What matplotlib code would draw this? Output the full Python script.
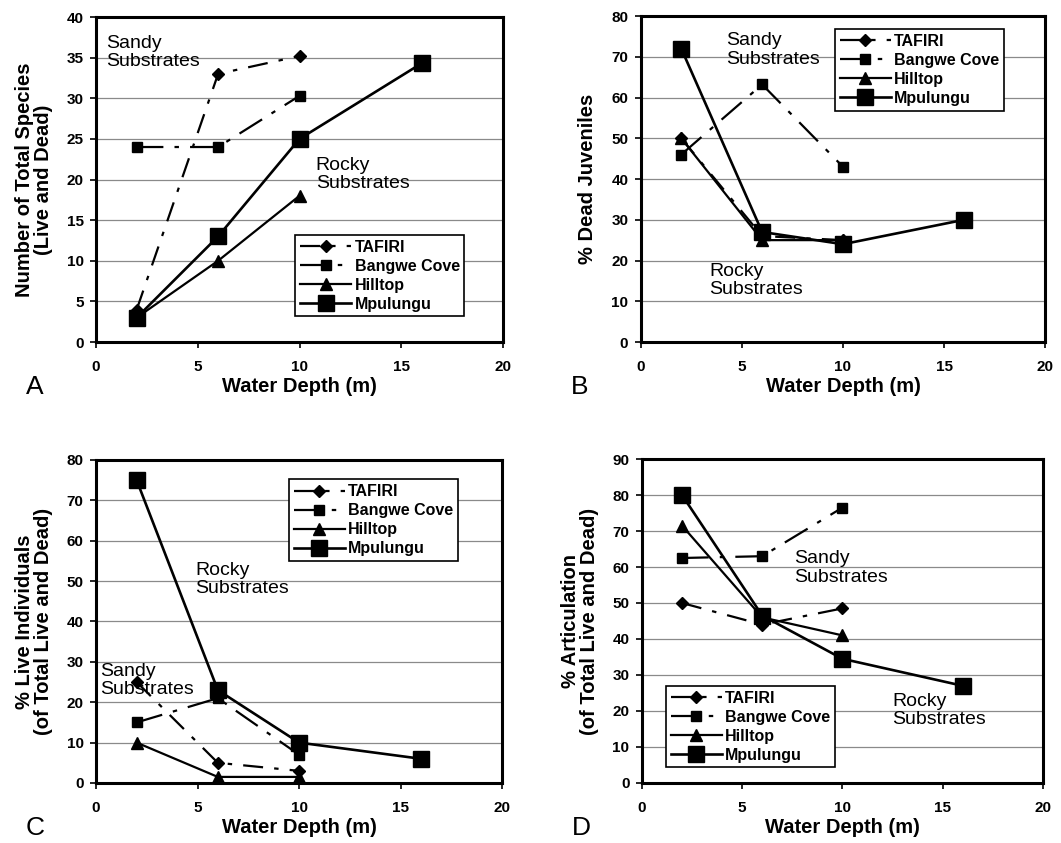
import matplotlib.pyplot as plt

plt.rcParams['font.family'] = ['Liberation Sans', 'DejaVu Sans']

siteNames = ['TAFIRI', 'Bangwe Cove', 'Hilltop', 'Mpulungu']
depths = [2, 6, 10]
depthsMpulungu = [2, 6, 10, 16]

# panel A - number of total species
speciesTafiri = [4, 33, 35.2]
speciesBangwe = [24, 24, 30.3]
speciesHilltop = [3, 10, 18]
speciesMpulungu = [3, 13, 25, 34.3]

# panel B - % dead juveniles
deadTafiri = [50, 26, 25]
deadBangwe = [46, 63.2, 43]
deadHilltop = [50, 25, 25]
deadMpulungu = [72, 27, 24, 30]

# panel C - % live individuals
liveTafiri = [25, 5, 3]
liveBangwe = [15, 21, 7]
liveHilltop = [10, 1.5, 1.5]
liveMpulungu = [75, 23, 10, 6]

# panel D - % articulation
artTafiri = [50, 44, 48.5]
artBangwe = [62.5, 63, 76.5]
artHilltop = [71.5, 46, 41]
artMpulungu = [80, 46.5, 34.5, 27]

styles = {
    'TAFIRI':      dict(marker='D', ms=6, lw=1.6, dashes=(9, 5, 2, 5)),
    'Bangwe Cove': dict(marker='s', ms=7, lw=1.6, dashes=(12, 5, 2, 5)),
    'Hilltop':     dict(marker='^', ms=8, lw=1.6, linestyle='-'),
    'Mpulungu':    dict(marker='s', ms=12, lw=1.9, linestyle='-'),
}

fig = plt.figure(figsize=(10.61, 8.43), dpi=100)


def drawPanel(rect, series, yMax, yStep, yLabel, letter, legendBox, sandyXY, rockyXY):
    ax = fig.add_axes(rect)
    for name, xs, ys in series:
        ax.plot(xs, ys, color='black', mfc='black', mec='black', label=name, **styles[name])
    ax.set_xlim(0, 20)
    ax.set_ylim(0, yMax)
    ax.set_xticks([0, 5, 10, 15, 20])
    ax.set_yticks(range(0, yMax + 1, yStep))
    ax.yaxis.grid(True, color='#8a8a8a', lw=0.9)
    ax.set_axisbelow(True)
    for s in ax.spines.values():
        s.set_linewidth(2.2)
    ax.tick_params(direction='out', length=4, width=1.2, labelsize=11, pad=5)
    ax.tick_params(axis='x', pad=9)
    for t in ax.get_xticklabels() + ax.get_yticklabels():
        t.set_fontweight('bold')
    ax.set_xlabel('Water Depth (m)', fontsize=14.5, fontweight='bold', labelpad=2)
    ax.set_ylabel(yLabel, fontsize=14.5, fontweight='bold', labelpad=10, linespacing=1.0)
    ax.text(sandyXY[0], sandyXY[1], 'Sandy\nSubstrates', fontsize=14, va='top', ha='left', linespacing=1.1)
    ax.text(rockyXY[0], rockyXY[1], 'Rocky\nSubstrates', fontsize=14, va='top', ha='left', linespacing=1.1)
    leg = ax.legend(loc='upper left', bbox_to_anchor=legendBox, fancybox=False, edgecolor='black',
                    framealpha=1, fontsize=11.5, handlelength=3.2, handletextpad=0.2,
                    borderpad=0.3, labelspacing=0.25, borderaxespad=0)
    leg.get_frame().set_linewidth(1.2)
    for t in leg.get_texts():
        t.set_fontweight('bold')
    fig.text(rect[0] - 0.066, rect[1] - 0.053, letter, fontsize=19, ha='left', va='center')
    return ax


drawPanel([0.0905, 0.5943, 0.3836, 0.3855],
          [('TAFIRI', depths, speciesTafiri), ('Bangwe Cove', depths, speciesBangwe),
           ('Hilltop', depths, speciesHilltop), ('Mpulungu', depthsMpulungu, speciesMpulungu)],
          40, 5, 'Number of Total Species\n(Live and Dead)', 'A', (0.49, 0.33), (0.5, 37.8), (10.8, 22.8))

drawPanel([0.604, 0.5943, 0.381, 0.3867],
          [('TAFIRI', depths, deadTafiri), ('Bangwe Cove', depths, deadBangwe),
           ('Hilltop', depths, deadHilltop), ('Mpulungu', depthsMpulungu, deadMpulungu)],
          80, 10, '% Dead Juveniles', 'B', (0.48, 0.96), (4.2, 76.0), (3.4, 19.5))

drawPanel([0.0905, 0.0712, 0.3827, 0.3832],
          [('TAFIRI', depths, liveTafiri), ('Bangwe Cove', depths, liveBangwe),
           ('Hilltop', depths, liveHilltop), ('Mpulungu', depthsMpulungu, liveMpulungu)],
          80, 10, '% Live Individuals\n(of Total Live and Dead)', 'C', (0.475, 0.94), (0.2, 29.8), (4.9, 54.8))

drawPanel([0.605, 0.0712, 0.378, 0.3843],
          [('TAFIRI', depths, artTafiri), ('Bangwe Cove', depths, artBangwe),
           ('Hilltop', depths, artHilltop), ('Mpulungu', depthsMpulungu, artMpulungu)],
          90, 10, '% Articulation\n(of Total Live and Dead)', 'D', (0.06, 0.30), (7.6, 64.6), (12.5, 25.0))

fig.savefig('out.png', dpi=100, facecolor='white')
